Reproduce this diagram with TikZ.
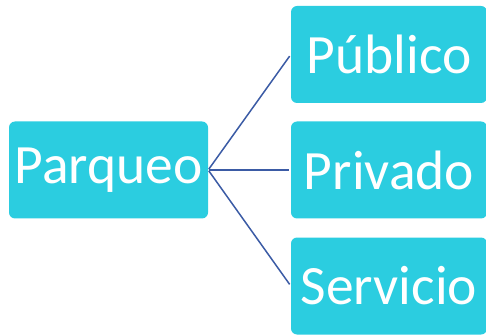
\documentclass[tikz,border=0pt]{standalone}
\usepackage{fontspec}
\setmainfont{Carlito}
\usetikzlibrary{positioning,calc}
\definecolor{boxcyan}{HTML}{2BCDE0}
\definecolor{linkblue}{HTML}{3B5BA5}

\begin{document}
\begin{tikzpicture}[
    x=1pt, y=-1pt,
    box/.style={rectangle, fill=boxcyan, rounded corners=6pt, minimum width=199pt, minimum height=97pt, align=center, text=white, font=\fontsize{55.5}{60}\selectfont, inner sep=0pt},
    link/.style={draw=linkblue, line width=1.5pt, shorten >=2pt, shorten <=1pt},
]
\useasboundingbox (0,0) rectangle (486,336);

\node[box, minimum width=199pt] (parqueo) at (108.5,170) {Parqueo};
\node[box, minimum width=196pt] (publico) at (389,54.5) {Público};
\node[box, minimum width=196pt] (privado) at (389,170) {Privado};
\node[box, minimum width=196pt] (servicio) at (389,286) {Servicio};

\draw[link] (parqueo.east) -- (publico.west);
\draw[link] (parqueo.east) -- (privado.west);
\draw[link] (parqueo.east) -- (servicio.west);

\end{tikzpicture}
\end{document}
